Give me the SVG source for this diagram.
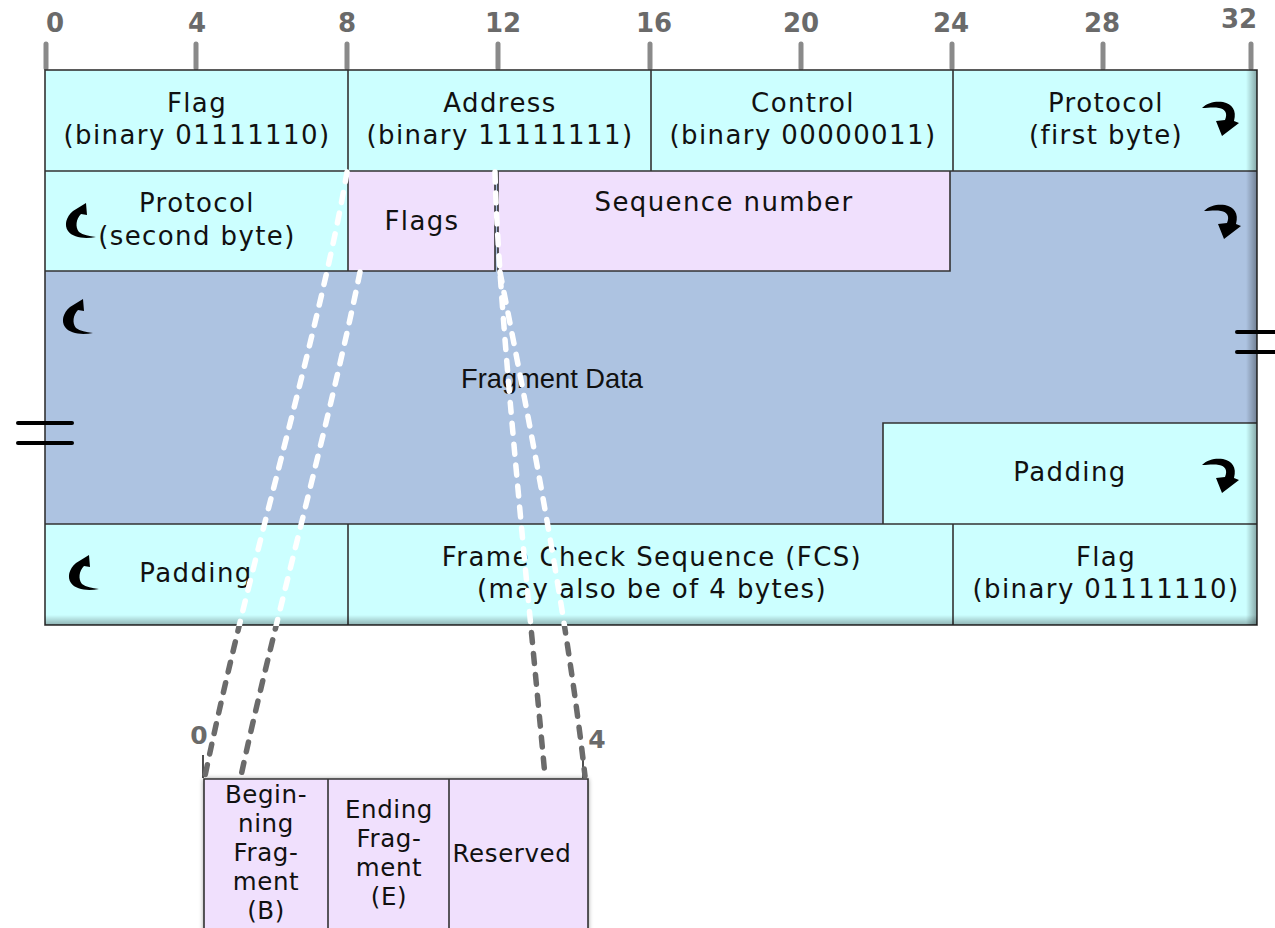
<svg xmlns="http://www.w3.org/2000/svg" xmlns:xlink="http://www.w3.org/1999/xlink" width="1275" height="928" viewBox="0 0 1275 928">
  <style>
    .cyan { fill: #ccffff; }
    .lav { fill: #f0e0fd; }
    .blue { fill: #adc3e1; }
    .edge { stroke: #333; stroke-width: 1.6; fill: none; }
    .lbl { font-family: "DejaVu Sans", Verdana, sans-serif; font-size: 26px; letter-spacing: 1.4px; fill: #111; text-anchor: middle; }
    .sub { font-family: "DejaVu Sans", Verdana, sans-serif; font-size: 24.5px; letter-spacing: 0.6px; fill: #111; text-anchor: middle; }
    .num { font-family: "DejaVu Sans", Verdana, sans-serif; font-weight: bold; font-size: 26px; fill: #6a6a6a; text-anchor: middle; }
    .tick { stroke: #8a8a8a; stroke-width: 5; stroke-linecap: round; }
    .brk { stroke: #000; stroke-width: 4; stroke-linecap: round; }
    .dashW { fill: none; stroke: #ffffff; stroke-width: 5.5; stroke-dasharray: 10 11; stroke-linecap: round; }
    .dashG { fill: none; stroke: #6b6b6b; stroke-width: 5.5; stroke-dasharray: 10 11; stroke-linecap: round; }
  </style>
  <defs>
    <!-- curled continuation arrows: onward (down) and back (up) -->
    <path id="hook" d="M0,6 C6,0 14,-1 21,0 C30,2 35,8 32,19 L37,21 L20,34 L14,19 L23,18 C26,11 23,7 17,6 C11,5 6,6 0,6 Z" fill="#000"/>
    <path id="hookBack" d="M21,0 L22,12 L16,11 C11,16 10,24 14,29 C18,32 24,33 31,34 C20,36 8,35 3,28 C-1,22 1,14 8,8 Z" fill="#000"/>
    <linearGradient id="shR" x1="0" y1="0" x2="1" y2="0">
      <stop offset="0" stop-color="#000" stop-opacity="0"/>
      <stop offset="1" stop-color="#000" stop-opacity="0.35"/>
    </linearGradient>
    <linearGradient id="shB" x1="0" y1="0" x2="0" y2="1">
      <stop offset="0" stop-color="#000" stop-opacity="0"/>
      <stop offset="1" stop-color="#000" stop-opacity="0.3"/>
    </linearGradient>
    <filter id="glow" x="-10%" y="-10%" width="120%" height="120%">
      <feGaussianBlur in="SourceAlpha" stdDeviation="2.5"/>
      <feComponentTransfer><feFuncA type="linear" slope="0.5"/></feComponentTransfer>
      <feMerge><feMergeNode/><feMergeNode in="SourceGraphic"/></feMerge>
    </filter>
    <clipPath id="inFrame"><rect x="0" y="0" width="1275" height="626"/></clipPath>
    <clipPath id="belowFrame"><rect x="0" y="626" width="1275" height="302"/></clipPath>
    <path id="c1" d="M347,172 C320,330 250,560 205,776"/>
    <path id="c2" d="M360,272 C330,420 270,640 241,776"/>
    <path id="c3" d="M495,172 C498,300 525,560 545,776"/>
    <path id="c4" d="M500,272 C525,400 565,600 585,776"/>
  </defs>

  <rect width="1275" height="928" fill="#ffffff"/>

  <!-- bit ruler -->
  <g id="ruler">
    <line class="tick" x1="46" y1="44" x2="46" y2="68"/>
    <line class="tick" x1="196" y1="44" x2="196" y2="68"/>
    <line class="tick" x1="347" y1="44" x2="347" y2="68"/>
    <line class="tick" x1="498" y1="44" x2="498" y2="68"/>
    <line class="tick" x1="650" y1="44" x2="650" y2="68"/>
    <line class="tick" x1="801" y1="44" x2="801" y2="68"/>
    <line class="tick" x1="952" y1="44" x2="952" y2="68"/>
    <line class="tick" x1="1103" y1="44" x2="1103" y2="68"/>
    <line class="tick" x1="1251" y1="44" x2="1251" y2="68"/>
    <text class="num" x="55" y="32">0</text>
    <text class="num" x="197" y="32">4</text>
    <text class="num" x="347" y="32">8</text>
    <text class="num" x="503" y="32">12</text>
    <text class="num" x="654" y="32">16</text>
    <text class="num" x="801" y="32">20</text>
    <text class="num" x="951" y="32">24</text>
    <text class="num" x="1102" y="32">28</text>
    <text class="num" x="1239" y="28">32</text>
  </g>

  <!-- frame background: fragment data area -->
  <rect id="frame-bg" class="blue" x="45" y="70" width="1212" height="555"/>

  <g id="flag-start">
    <rect class="cyan" x="45" y="70" width="303" height="101"/>
    <text class="lbl" x="197" y="112">Flag</text>
    <text class="lbl" x="197" y="144">(binary 01111110)</text>
  </g>
  <g id="address">
    <rect class="cyan" x="348" y="70" width="303" height="101"/>
    <text class="lbl" x="500" y="112">Address</text>
    <text class="lbl" x="500" y="144">(binary 11111111)</text>
  </g>
  <g id="control">
    <rect class="cyan" x="651" y="70" width="302" height="101"/>
    <text class="lbl" x="803" y="112">Control</text>
    <text class="lbl" x="803" y="144">(binary 00000011)</text>
  </g>
  <g id="protocol-1">
    <rect class="cyan" x="953" y="70" width="304" height="101"/>
    <text class="lbl" x="1106" y="112">Protocol</text>
    <text class="lbl" x="1106" y="144">(first byte)</text>
    <use href="#hook" x="1202" y="102"/>
  </g>
  <g id="protocol-2">
    <rect class="cyan" x="45" y="171" width="303" height="100"/>
    <text class="lbl" x="197" y="212">Protocol</text>
    <text class="lbl" x="197" y="245">(second byte)</text>
    <use href="#hookBack" x="65" y="203"/>
  </g>
  <g id="flags">
    <rect class="lav" x="348" y="171" width="147" height="100"/>
    <text class="lbl" x="422" y="230">Flags</text>
  </g>
  <g id="sequence">
    <rect class="lav" x="498" y="171" width="452" height="100"/>
    <text class="lbl" x="724" y="211">Sequence number</text>
  </g>
  <g id="fragment-data">
    <text x="552" y="388" font-family="'Liberation Sans', Arial, sans-serif" font-size="27.3" fill="#111" text-anchor="middle">Fragment Data</text>
    <use href="#hook" x="1204" y="205"/>
    <use href="#hookBack" x="62" y="299"/>
  </g>
  <g id="padding-1">
    <rect class="cyan" x="883" y="423" width="374" height="101"/>
    <text class="lbl" x="1070" y="481">Padding</text>
    <use href="#hook" x="1202" y="459"/>
  </g>
  <g id="padding-2">
    <rect class="cyan" x="45" y="524" width="303" height="101"/>
    <text class="lbl" x="196" y="582">Padding</text>
    <use href="#hookBack" x="68" y="555"/>
  </g>
  <g id="fcs">
    <rect class="cyan" x="348" y="524" width="605" height="101"/>
    <text class="lbl" x="652" y="566">Frame Check Sequence (FCS)</text>
    <text class="lbl" x="652" y="598">(may also be of 4 bytes)</text>
  </g>
  <g id="flag-end">
    <rect class="cyan" x="953" y="524" width="304" height="101"/>
    <text class="lbl" x="1106" y="566">Flag</text>
    <text class="lbl" x="1106" y="598">(binary 01111110)</text>
  </g>

  <!-- field borders -->
  <g id="borders" class="edge">
    <path d="M45,171 H1257 M348,70 V271 M651,70 V171 M953,70 V171"/>
    <path d="M45,271 H495 V171 M498,171 V271 H950 V171"/>
    <path d="M883,524 V423 H1257"/>
    <path d="M45,524 H1257 M348,524 V625 M953,524 V625"/>
    <rect x="45" y="70" width="1212" height="555"/>
  </g>
  <rect x="1246" y="70" width="11" height="555" fill="url(#shR)"/>
  <rect x="45" y="615" width="1212" height="10" fill="url(#shB)"/>

  <!-- broken-frame marks -->
  <g id="breaks">
    <line class="brk" x1="18" y1="423" x2="72" y2="423"/>
    <line class="brk" x1="18" y1="443" x2="72" y2="443"/>
    <line class="brk" x1="1237" y1="332" x2="1275" y2="332"/>
    <line class="brk" x1="1237" y1="352" x2="1275" y2="352"/>
  </g>

  <!-- expanded Flags field -->
  <g id="flags-detail">
    <line x1="203" y1="755" x2="203" y2="778" stroke="#222" stroke-width="1.6"/>
    <line x1="583" y1="755" x2="583" y2="778" stroke="#222" stroke-width="1.6"/>
    <text x="199" y="744" font-family="'DejaVu Sans', Verdana, sans-serif" font-weight="bold" font-size="25" fill="#6a6a6a" text-anchor="middle">0</text>
    <text x="597" y="748" font-family="'DejaVu Sans', Verdana, sans-serif" font-weight="bold" font-size="25" fill="#6a6a6a" text-anchor="middle">4</text>
    <g filter="url(#glow)">
      <rect class="lav" x="204" y="779" width="384" height="160"/>
    </g>
    <path class="edge" d="M204,940 V779 H588 V940 M328,779 V940 M449,779 V940"/>
  </g>
  <g id="bit-b">
    <text class="sub" x="266" y="803">Begin-</text>
    <text class="sub" x="266" y="832">ning</text>
    <text class="sub" x="266" y="861">Frag-</text>
    <text class="sub" x="266" y="890">ment</text>
    <text class="sub" x="266" y="919">(B)</text>
  </g>
  <g id="bit-e">
    <text class="sub" x="389" y="818">Ending</text>
    <text class="sub" x="389" y="847">Frag-</text>
    <text class="sub" x="389" y="876">ment</text>
    <text class="sub" x="389" y="905">(E)</text>
  </g>
  <g id="reserved">
    <text class="sub" x="512" y="862">Reserved</text>
  </g>

  <!-- zoom connectors -->
  <g id="connectors">
    <g clip-path="url(#inFrame)">
      <use href="#c1" class="dashW"/>
      <use href="#c2" class="dashW"/>
      <use href="#c3" class="dashW"/>
      <use href="#c4" class="dashW"/>
    </g>
    <g clip-path="url(#belowFrame)">
      <use href="#c1" class="dashG"/>
      <use href="#c2" class="dashG"/>
      <use href="#c3" class="dashG"/>
      <use href="#c4" class="dashG"/>
    </g>
  </g>
</svg>
